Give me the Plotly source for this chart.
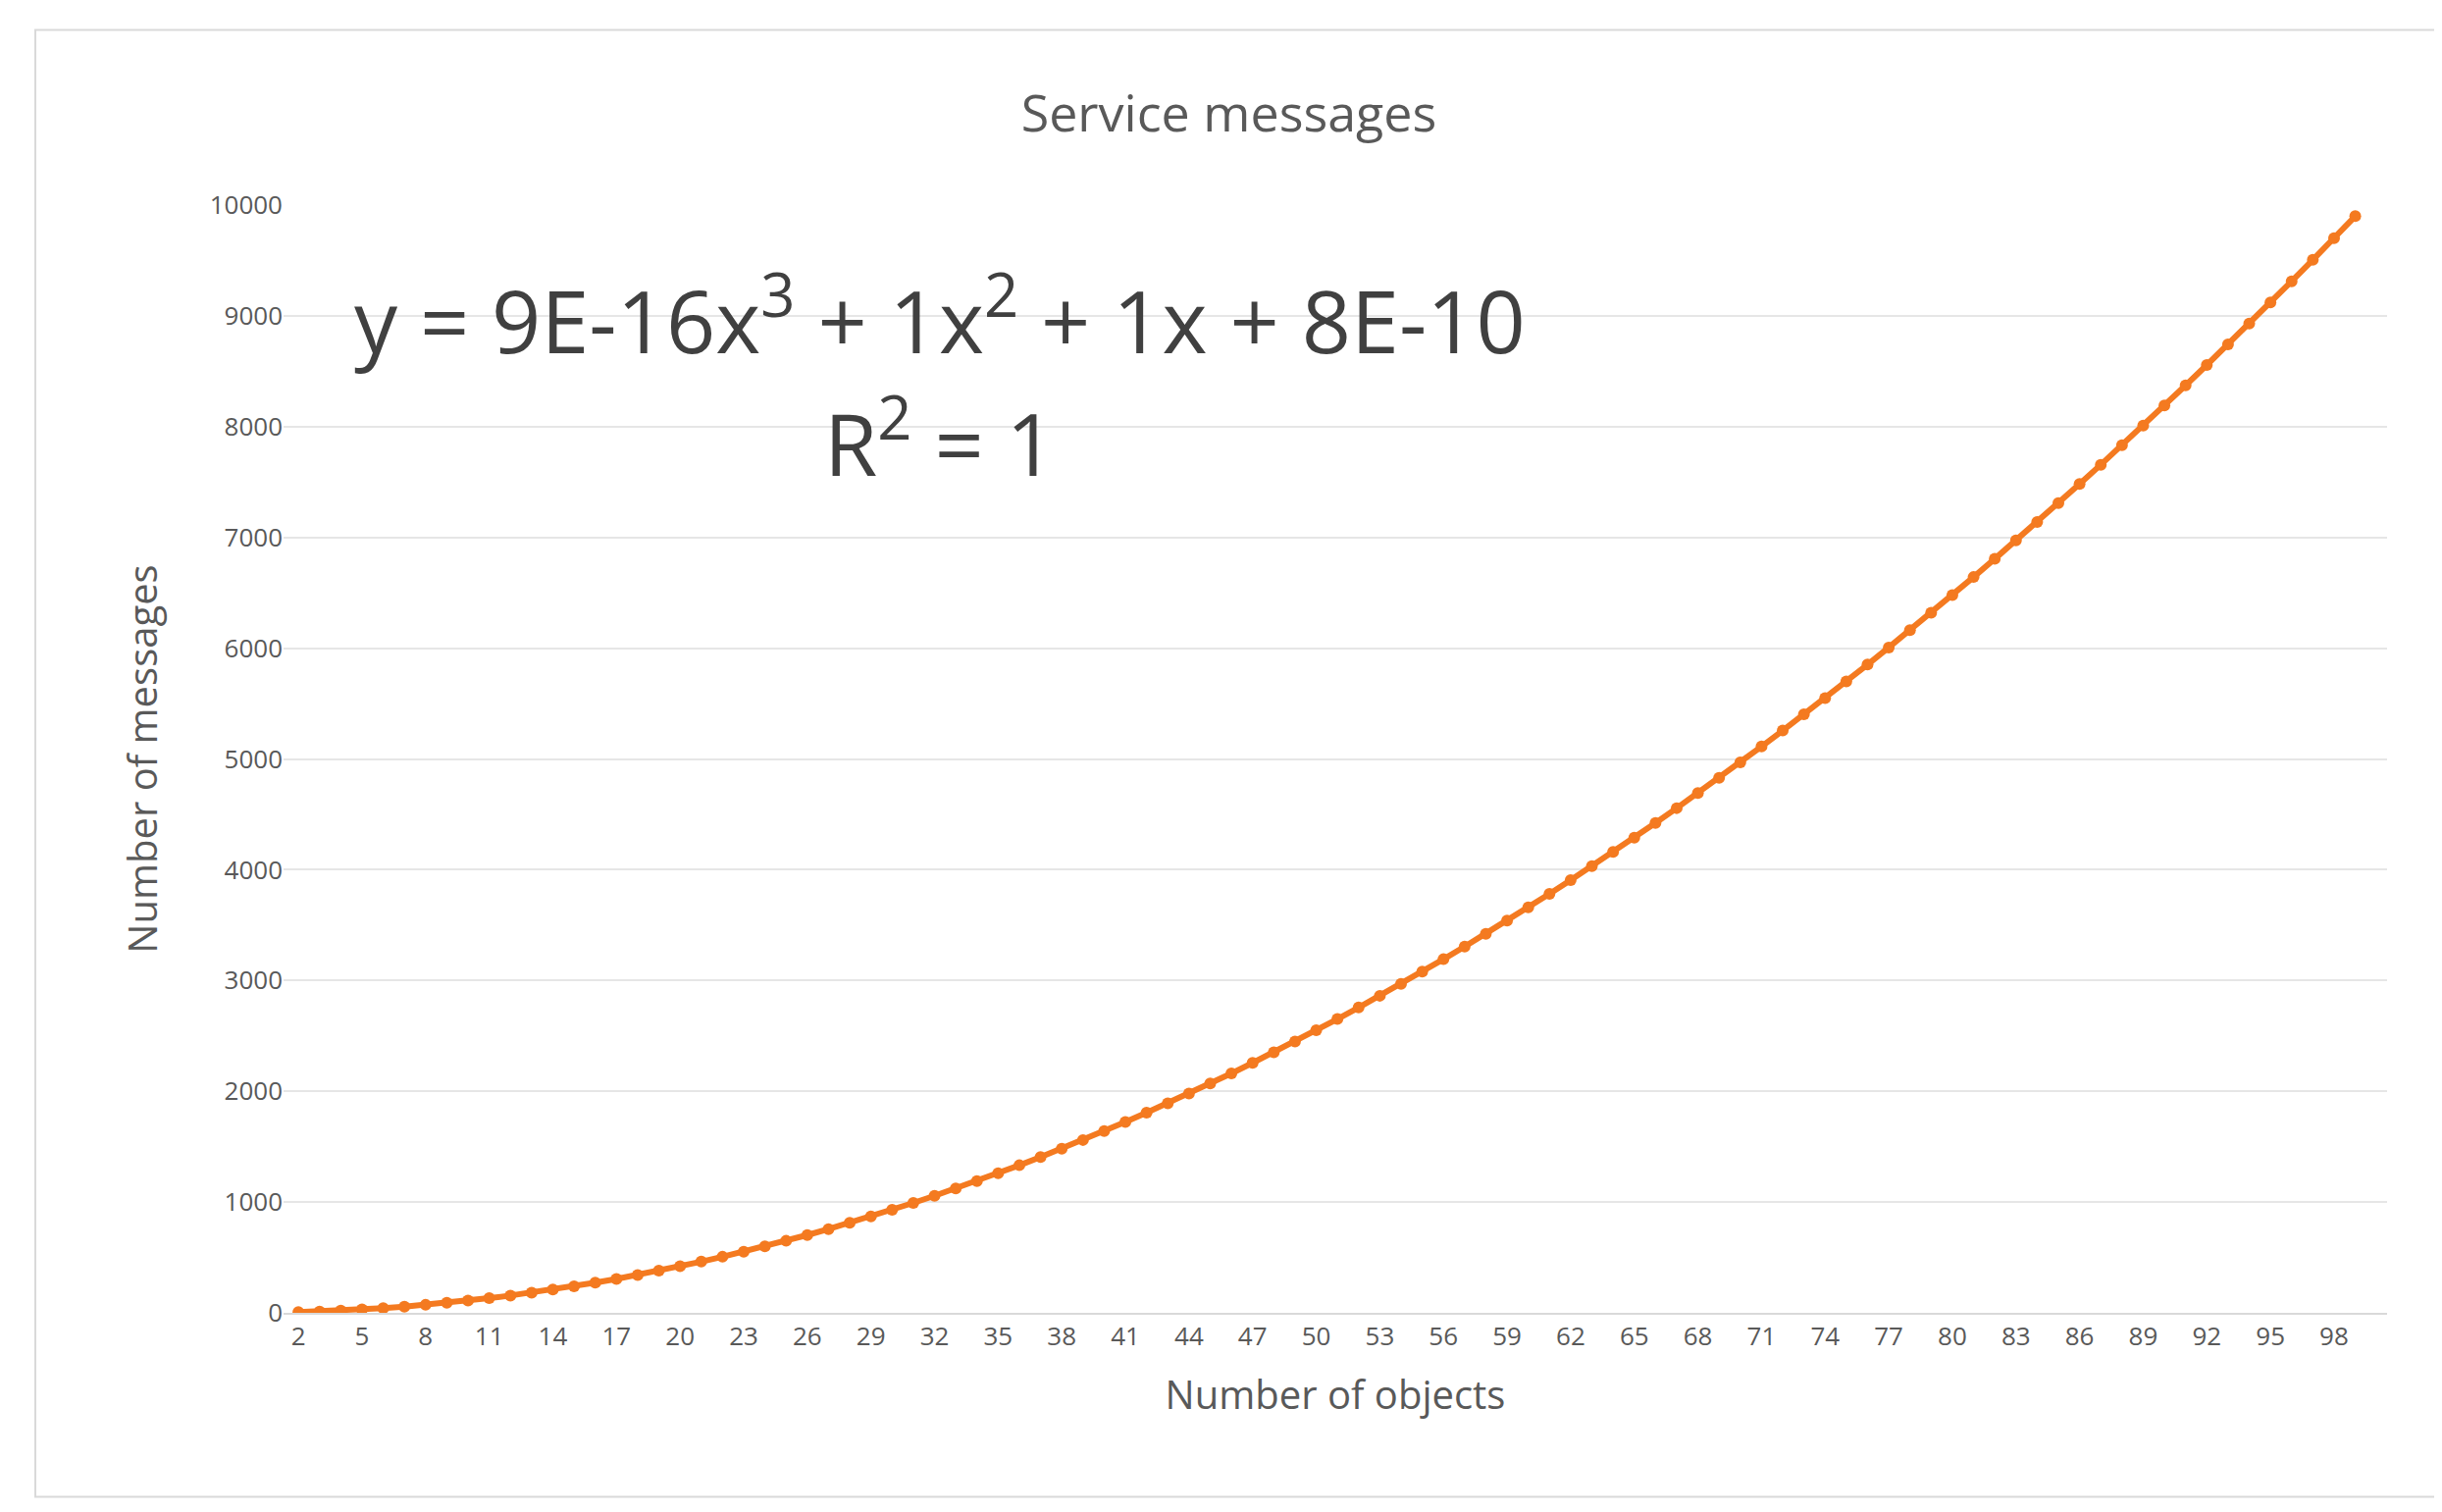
import plotly.graph_objects as go

x_objects = list(range(2, 100))
y_messages = [6,12,20,30,42,56,72,90,110,132,156,182,210,240,272,306,342,380,420,462,506,552,600,650,702,756,812,870,930,992,
1056,1122,1190,1260,1332,1406,1482,1560,1640,1722,1806,1892,1980,2070,2162,2256,2352,2450,2550,2652,2756,2862,2970,3080,3192,3306,3422,3540,3660,3782,
3906,4032,4160,4290,4422,4556,4692,4830,4970,5112,5256,5402,5550,5700,5852,6006,6162,6320,6480,6642,6806,6972,7140,7310,7482,7656,7832,8010,8190,8372,
8556,8742,8930,9120,9312,9506,9702,9900]
x_ticks = list(range(2, 99, 3))
y_ticks = list(range(0, 10001, 1000))
y_tick_labels = [str(v) for v in y_ticks]

grey = "#595959"
orange = "#F47A20"
fig = go.Figure(go.Scatter(x=x_objects, y=y_messages, mode="lines+markers",
    line=dict(color=orange, width=6), marker=dict(color=orange, size=12)))
fig.update_layout(
    width=2489, height=1541, paper_bgcolor="white", plot_bgcolor="white",
    margin=dict(l=281, r=64, t=201, b=211),
    font=dict(family="Open Sans", color=grey),
    title=dict(text="Service messages", x=0.5, xanchor="center", y=0.93, yanchor="middle",
               font=dict(size=52, color=grey)),
    showlegend=False,
    shapes=[dict(type="rect", xref="paper", yref="paper", x0=-0.118, x1=1.028, y0=-0.166, y1=1.158,
                 line=dict(color="#D9D9D9", width=2))],
    annotations=[
        dict(text="y = 9E-16x<sup>3</sup> + 1x<sup>2</sup> + 1x + 8E-10", xref="paper", yref="y",
             x=0.312, xanchor="center", y=9000, showarrow=False, font=dict(size=88, color="#404040")),
        dict(text="R<sup>2</sup> = 1", xref="paper", yref="y",
             x=0.312, xanchor="center", y=7900, showarrow=False, font=dict(size=88, color="#404040")),
    ],
)
fig.update_xaxes(range=[1.3, 100.5], tickvals=x_ticks, showgrid=False, showline=True,
                 linecolor="#D9D9D9", linewidth=2, tickfont=dict(size=26, color=grey),
                 title=dict(text="Number of objects", font=dict(size=40, color=grey), standoff=30), ticks="")
fig.update_yaxes(range=[0, 10000], tickvals=y_ticks, ticktext=y_tick_labels, gridcolor="#E6E6E6",
                 gridwidth=2, zeroline=False, tickfont=dict(size=26, color=grey), ticks="",
                 title=dict(text="Number of messages", font=dict(size=40, color=grey), standoff=40))
fig.write_html("out.html")
